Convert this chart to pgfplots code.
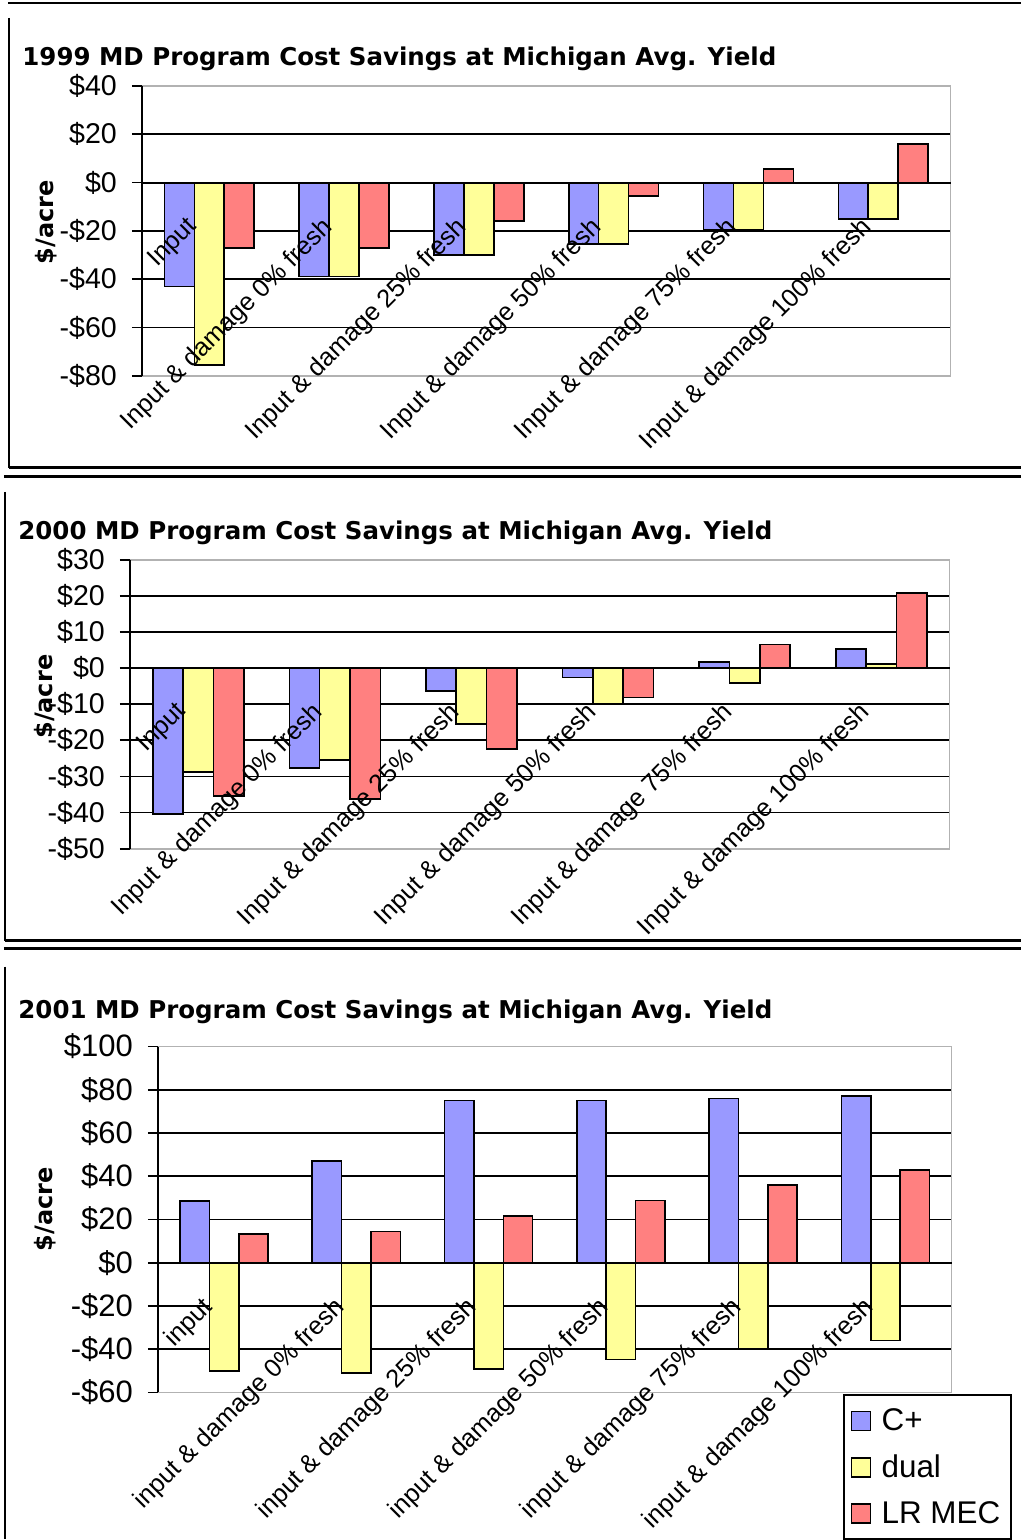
\documentclass[border=0pt]{standalone}
\usepackage{fontspec}
\setmainfont{Liberation Sans}
\newfontfamily\titlefont{DejaVu Sans}
\usepackage{pgfplots}
\pgfplotsset{compat=1.18}
\definecolor{cplus}{HTML}{9999FF}
\definecolor{dualc}{HTML}{FFFF99}
\definecolor{lrmec}{HTML}{FF8080}

\pgfplotsset{
  layers/mdlayers/.define layer set={axis background,axis grid,main,axis ticks,axis lines,axis tick labels,axis descriptions,axis foreground}{
    grid style={/pgfplots/on layer=axis grid},
    tick style={/pgfplots/on layer=axis ticks},
    axis line style={/pgfplots/on layer=axis lines},
    label style={/pgfplots/on layer=axis descriptions},
    legend style={/pgfplots/on layer=axis descriptions},
    title style={/pgfplots/on layer=axis descriptions},
    ticklabel style={/pgfplots/on layer=axis tick labels},
  },
  every axis title shift=0pt,
  mdstyle/.style={
    set layers=mdlayers,
    scale only axis,
    axis x line*=middle,
    axis y line*=left,
    axis line style={black, line width=1pt},
    xmin=-0.5, xmax=5.5,
    xtick={0,1,2,3,4,5},
    major x tick style={draw=none},
    extra x ticks={0.5,1.5,2.5,3.5,4.5,5.5},
    extra x tick labels={},
    extra x tick style={grid=none, major tick length=4pt, tick align=outside, major tick style={black, line width=0.8pt}},
    ymajorgrids=true,
    major grid style={black, line width=0.9pt},
    ytick align=outside,
    major y tick style={black, line width=0.9pt},
    major tick length=5pt,
    yticklabel style={font=\fontsize{14.3}{16}\selectfont, xshift=-4pt},
    xticklabel style={font=\fontsize{12.7}{14}\selectfont, inner sep=0pt, xshift=-12pt, yshift=-16pt, rotate=45, anchor=north east},
    ylabel={\titlefont\bfseries \$/acre},
    ylabel style={font=\fontsize{12}{14}\selectfont, anchor=center, rotate=0},
    title style={font=\titlefont\bfseries\fontsize{12.25}{14}\selectfont, anchor=base west, inner sep=0pt},
    clip=false,
  },
  cbar/.style={ybar, bar width=0.222, bar shift=-0.222, fill=cplus, draw=black, line width=0.8pt},
  dbar/.style={ybar, bar width=0.222, bar shift=0, fill=dualc, draw=black, line width=0.8pt},
  lbar/.style={ybar, bar width=0.222, bar shift=0.222, fill=lrmec, draw=black, line width=0.8pt},
}

\begin{document}
\begin{tikzpicture}
\begin{scope}[x=0.5pt, y=-0.5pt]
  \useasboundingbox (0,0) rectangle (1021,1540);
  % panel frames
  \draw[line width=1.4pt] (8,3) -- (1021,3);
  \draw[line width=1pt] (9,18) -- (9,468);
  \draw[line width=1.4pt] (9,468) -- (1021,468);
  \draw[line width=1.4pt] (4,477) -- (1021,477);
  \draw[line width=1pt] (5,492) -- (5,941);
  \draw[line width=1.4pt] (5,941) -- (1021,941);
  \draw[line width=1.4pt] (4,949) -- (1021,949);
  \draw[line width=1pt] (5,967) -- (5,1540);
  \coordinate (A1) at (142,376);
  \coordinate (A2) at (130,849);
  \coordinate (A3) at (158,1393);
\end{scope}

% ---------- 1999 ----------
\begin{axis}[mdstyle,
  at={(A1)}, anchor=south west,
  width=404.5pt, height=145pt,
  ymin=-80, ymax=40,
  ytick={-80,-60,-40,-20,0,20,40},
  yticklabels={-\$80,-\$60,-\$40,-\$20,\$0,\$20,\$40},
  xticklabels={Input, Input \& damage 0\% fresh, Input \& damage 25\% fresh, Input \& damage 50\% fresh, Input \& damage 75\% fresh, Input \& damage 100\% fresh},
  title={1999 MD Program Cost Savings at Michigan Avg. Yield},
  title style={at={(axis description cs:-0.1483,1.0707)}},
  ylabel style={at={(axis description cs:-0.119,0.53)}},
]
\addplot[cbar] coordinates {(0,-43) (1,-38.8) (2,-30) (3,-25.5) (4,-19.7) (5,-15)};
\addplot[dbar] coordinates {(0,-75.5) (1,-38.8) (2,-30) (3,-25.5) (4,-19.7) (5,-15)};
\addplot[lbar] coordinates {(0,-27) (1,-27) (2,-16) (3,-5.5) (4,5.7) (5,16)};
\draw[gray!60, line width=0.9pt] (rel axis cs:0,1) -- (rel axis cs:1,1) -- (rel axis cs:1,0) -- (rel axis cs:0,0);
\end{axis}

% ---------- 2000 ----------
\begin{axis}[mdstyle,
  at={(A2)}, anchor=south west,
  width=410pt, height=144.5pt,
  ymin=-50, ymax=30,
  ytick={-50,-40,-30,-20,-10,0,10,20,30},
  yticklabels={-\$50,-\$40,-\$30,-\$20,-\$10,\$0,\$10,\$20,\$30},
  xticklabels={Input, Input \& damage 0\% fresh, Input \& damage 25\% fresh, Input \& damage 50\% fresh, Input \& damage 75\% fresh, Input \& damage 100\% fresh},
  title={2000 MD Program Cost Savings at Michigan Avg. Yield},
  title style={at={(axis description cs:-0.1366,1.0692)}},
  ylabel style={at={(axis description cs:-0.104,0.526)}},
]
\addplot[cbar] coordinates {(0,-40.4) (1,-27.6) (2,-6.3) (3,-2.6) (4,1.7) (5,5.3)};
\addplot[dbar] coordinates {(0,-28.7) (1,-25.4) (2,-15.4) (3,-9.9) (4,-4.2) (5,1.1)};
\addplot[lbar] coordinates {(0,-35.5) (1,-36.2) (2,-22.4) (3,-8.1) (4,6.5) (5,20.8)};
\draw[gray!60, line width=0.9pt] (rel axis cs:0,1) -- (rel axis cs:1,1) -- (rel axis cs:1,0) -- (rel axis cs:0,0);
\end{axis}

% ---------- 2001 ----------
\begin{axis}[mdstyle,
  at={(A3)}, anchor=south west,
  width=397pt, height=173pt,
  ymin=-60, ymax=100,
  ytick={-60,-40,-20,0,20,40,60,80,100},
  yticklabels={-\$60,-\$40,-\$20,\$0,\$20,\$40,\$60,\$80,\$100},
  yticklabel style={font=\fontsize{15.5}{17}\selectfont},
  xticklabels={input, input \& damage 0\% fresh, input \& damage 25\% fresh, input \& damage 50\% fresh, input \& damage 75\% fresh, input \& damage 100\% fresh},
  title={2001 MD Program Cost Savings at Michigan Avg. Yield},
  title style={at={(axis description cs:-0.1763,1.0809)}},
  ylabel style={at={(axis description cs:-0.142,0.53)}},
  legend style={at={(axis description cs:0.863,-0.006)}, anchor=north west, draw=black, line width=1pt,
    font=\fontsize{15.7}{18}\selectfont, row sep=6.5pt, inner xsep=3.5pt, inner ysep=4.5pt, fill=white},
  legend cell align=left,
  legend image code/.code={\draw[#1, line width=0.8pt] (0pt,-4.75pt) rectangle (9.5pt,4.75pt); \path[draw=none, fill=none] (0pt,0pt) -- (13pt,0pt);},
]
\addplot[cbar] coordinates {(0,28.5) (1,47) (2,75) (3,75) (4,76) (5,77)};
\addlegendentry{C+}
\addplot[dbar] coordinates {(0,-50) (1,-51) (2,-49.3) (3,-44.8) (4,-40) (5,-36)};
\addlegendentry{dual}
\addplot[lbar] coordinates {(0,13.3) (1,14.5) (2,21.6) (3,28.7) (4,35.9) (5,43)};
\addlegendentry{LR MEC}
\draw[gray!60, line width=0.9pt] (rel axis cs:0,1) -- (rel axis cs:1,1) -- (rel axis cs:1,0) -- (rel axis cs:0,0);
\end{axis}
\end{tikzpicture}
\end{document}
